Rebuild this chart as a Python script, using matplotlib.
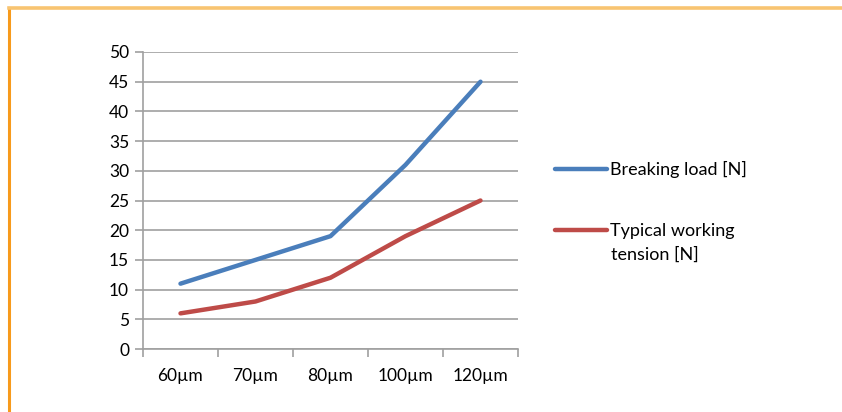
import matplotlib
matplotlib.use('Agg')
import matplotlib.pyplot as plt
from matplotlib.lines import Line2D

plt.rcParams['font.family'] = ['Lato', 'DejaVu Sans']

categories = ['60µm', '70µm', '80µm', '100µm', '120µm']
breaking_load = [11, 15, 19, 31, 45]
working_tension = [6, 8, 12, 19, 25]
y_ticks = [0, 5, 10, 15, 20, 25, 30, 35, 40, 45, 50]

W, H = 842, 412
fig = plt.figure(figsize=(W / 100, H / 100), dpi=100)

# orange frame on the left and top
fig.add_artist(Line2D([8.5 / W, 8.5 / W], [0, (H - 7.5) / H], color='#F79A1C', lw=2.2))
fig.add_artist(Line2D([8.5 / W, 1], [(H - 7.5) / H, (H - 7.5) / H], color='#F8C471', lw=2.6))

ax = fig.add_axes([143 / W, 63 / H, 375 / W, 297 / H])

x = range(len(categories))
ax.plot(x, breaking_load, color='#4A7EBB', lw=3.2, solid_capstyle='round',
        label='Breaking load [N]')
ax.plot(x, working_tension, color='#BE4B48', lw=3.2, solid_capstyle='round',
        label='Typical working')

ax.set_xlim(-0.5, len(categories) - 0.5)
ax.set_ylim(0, 50)
ax.set_yticks(y_ticks)
ax.yaxis.grid(True, color='#A0A0A0', lw=1.2)
ax.set_axisbelow(True)

ax.set_xticks([i - 0.5 for i in range(len(categories) + 1)], minor=False)
ax.set_xticklabels([])
ax.set_xticks(list(x), minor=True)
ax.set_xticklabels(categories, minor=True)
ax.tick_params(axis='x', which='minor', length=0, pad=14, labelsize=12.5)
ax.tick_params(axis='x', which='major', length=6, color='#A0A0A0', width=1.2)
ax.tick_params(axis='y', length=6, color='#A0A0A0', width=1.2, labelsize=12.5, pad=4)

for s in ['top', 'right']:
    ax.spines[s].set_visible(False)
ax.spines['left'].set_color('#A0A0A0')
ax.spines['left'].set_linewidth(1.2)
ax.spines['bottom'].set_color('#A0A0A0')
ax.spines['bottom'].set_linewidth(1.2)

leg = ax.legend(loc='upper left', bbox_to_anchor=(555 / W, (H - 161) / H),
                bbox_transform=fig.transFigure, frameon=False, fontsize=13,
                handlelength=2.9, handletextpad=0.15, labelspacing=2.5,
                borderpad=0, borderaxespad=0)

# second line of the wrapped legend label (Excel keeps the marker on the first line)
fig.text(611 / W, (H - 255) / H, 'tension [N]', fontsize=13, va='center', ha='left')

fig.savefig('out.png', dpi=100)
